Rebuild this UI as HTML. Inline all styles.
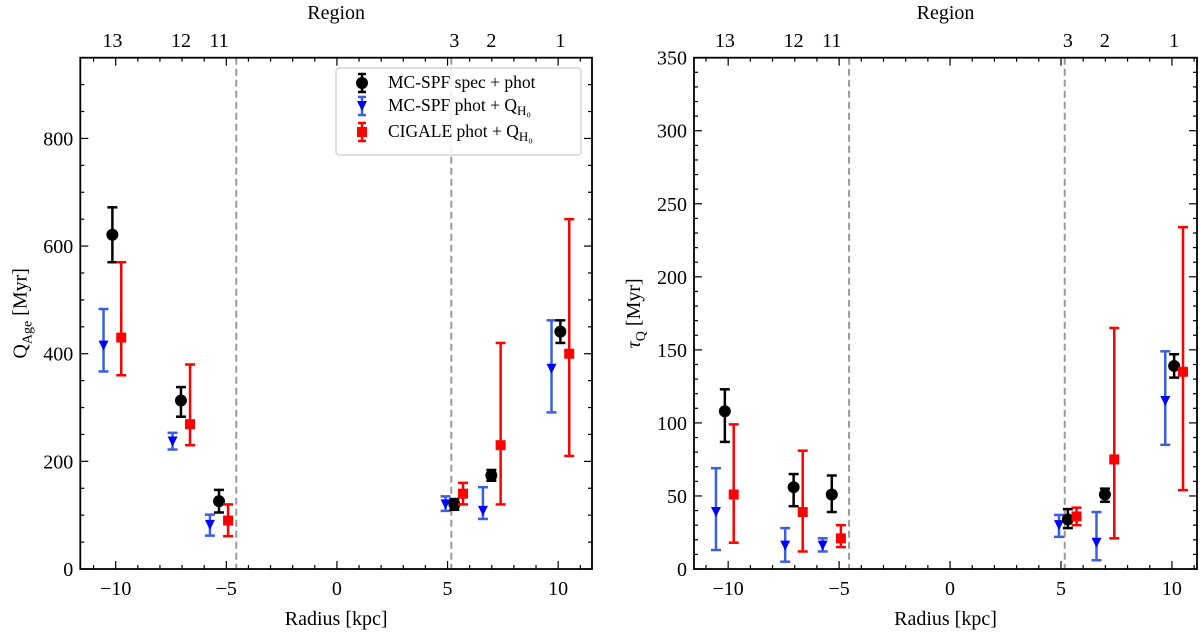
<!DOCTYPE html>
<html><head><meta charset="utf-8"><style>
body{margin:0;background:#fff}
svg{display:block;font-family:"Liberation Serif",serif}
</style></head><body>
<svg id="fig" width="1200" height="633" viewBox="0 0 1200 633" xmlns="http://www.w3.org/2000/svg"></svg>
<script>
const radiusBlack=[-10.15,-7.05,-5.33,5.31,6.98,10.1];
const radiusBlue=[-10.55,-7.43,-5.74,4.91,6.6,9.7];
const radiusRed=[-9.75,-6.64,-4.92,5.7,7.4,10.5];
const regionLabels=["13","12","11","3","2","1"];
const dashedRadii=[-4.55,5.17];
// Left panel: Q_Age
const ageBlack=[621,313,126,120,174,441];
const ageBlackLo=[570,283,105,110,164,420];
const ageBlackHi=[672,338,147,130,184,462];
const ageBlue=[415,237,82,120,108,372];
const ageBlueLo=[367,222,62,108,93,291];
const ageBlueHi=[483,253,101,135,152,462];
const ageRed=[430,269,90,140,230,400];
const ageRedLo=[360,230,61,120,120,210];
const ageRedHi=[570,380,120,160,420,650];
// Right panel: tau_Q
const tauBlack=[108,56,51,34,51,139];
const tauBlackLo=[87,43,39,28,46,131];
const tauBlackHi=[123,65,64,41,55,147];
const tauBlue=[39,16,16,30,18,115];
const tauBlueLo=[13,5,12,22,6,85];
const tauBlueHi=[69,28,21,37,39,149];
const tauRed=[51,39,21,36,75,135];
const tauRedLo=[18,12,15,30,21,54];
const tauRedHi=[99,81,30,42,165,234];
const xTicks=[-10,-5,0,5,10];
const ageTicks=[0,200,400,600,800];
const tauTicks=[0,50,100,150,200,250,300,350];

const NS="http://www.w3.org/2000/svg";
const svg=document.getElementById('fig');
function mk(tag,attrs,parent,name){const e=document.createElementNS(NS,tag);for(const k in attrs)e.setAttribute(k,attrs[k]);


(parent||svg).appendChild(e);return e;}

function panel(p){
  const g=mk('g',{},svg,p.name);
  const X=v=>p.x0+(v-p.xmin)/(p.xmax-p.xmin)*(p.x1-p.x0);
  const Y=v=>p.y1-(v-p.ymin)/(p.ymax-p.ymin)*(p.y1-p.y0);
  dashedRadii.forEach(r=>mk('line',{x1:X(r),x2:X(r),y1:p.y0,y2:p.y1,stroke:'#999','stroke-width':2,'stroke-dasharray':'7,4'},g,'region-boundary-line'));
  for(let v=Math.ceil(p.xmin);v<=p.xmax;v++){const maj=v%5===0,L=maj?8:4;
    mk('line',{x1:X(v),x2:X(v),y1:p.y1,y2:p.y1-L,stroke:'#000','stroke-width':1.2},g,'x-tick');
    mk('line',{x1:X(v),x2:X(v),y1:p.y0,y2:p.y0+L,stroke:'#000','stroke-width':1.2},g,'x-tick-top');}
  xTicks.forEach(v=>{const t=mk('text',{x:X(v),y:p.y1+26,'text-anchor':'middle','font-size':20},g,'x-tick-label');t.textContent=v<0?'\u2212'+(-v):v;});
  for(let v=p.ymin;v<=p.ymax+1e-9;v+=p.minor){const maj=Math.abs(v/p.major-Math.round(v/p.major))<1e-6,L=maj?8:4;
    mk('line',{x1:p.x0,x2:p.x0+L,y1:Y(v),y2:Y(v),stroke:'#000','stroke-width':1.2},g,'y-tick');
    mk('line',{x1:p.x1,x2:p.x1-L,y1:Y(v),y2:Y(v),stroke:'#000','stroke-width':1.2},g,'y-tick-right');}
  p.yticks.forEach(v=>{const t=mk('text',{x:p.x0-7,y:Y(v)+7,'text-anchor':'end','font-size':20},g,'y-tick-label');t.textContent=v;});
  regionLabels.forEach((s,i)=>{const t=mk('text',{x:X(radiusBlack[i]),y:47,'text-anchor':'middle','font-size':20},g,'region-label');t.textContent=s;});
  const rt=mk('text',{x:(p.x0+p.x1)/2,y:19,'text-anchor':'middle','font-size':20},g,'top-axis-title');rt.textContent='Region';
  const xt=mk('text',{x:(p.x0+p.x1)/2,y:625,'text-anchor':'middle','font-size':20},g,'x-axis-title');xt.textContent='Radius [kpc]';
  const yt=mk('text',{x:0,y:0,'text-anchor':'middle','font-size':20,transform:`translate(${p.x0-54},${(p.y0+p.y1)/2}) rotate(-90)`},g,'y-axis-title');yt.innerHTML=p.ylabel;
  function series(xs,ys,lo,hi,color,shape,nm){
    xs.forEach((xv,i)=>{const cx=X(xv),cy=Y(ys[i]);
      mk('line',{x1:cx,x2:cx,y1:Y(lo[i]),y2:Y(hi[i]),stroke:color,'stroke-width':2.5},g,nm+'-errorbar');
      [lo[i],hi[i]].forEach(v=>mk('line',{x1:cx-5,x2:cx+5,y1:Y(v),y2:Y(v),stroke:color,'stroke-width':2.5},g,nm+'-errorcap'));
      if(shape==='c')mk('circle',{cx:cx,cy:cy,r:6,fill:'#000'},g,nm+'-point');
      else if(shape==='s')mk('rect',{x:cx-5,y:cy-5,width:10,height:10,fill:'#f00'},g,nm+'-point');
      else mk('polygon',{points:`${cx-5},${cy-5} ${cx+5},${cy-5} ${cx},${cy+5}`,fill:'#00f'},g,nm+'-point');
    });}
  series(radiusBlue,p.blue,p.blueLo,p.blueHi,'#3a5fe0','t','mcspf-phot');
  series(radiusBlack,p.black,p.blackLo,p.blackHi,'#000','c','mcspf-spec');
  series(radiusRed,p.red,p.redLo,p.redHi,'#f00','s','cigale');
  mk('rect',{x:p.x0,y:p.y0,width:p.x1-p.x0,height:p.y1-p.y0,fill:'none',stroke:'#000','stroke-width':1.8},g,'plot-frame');
  return g;
}
panel({name:'age-panel',x0:80.3,x1:592,y0:57.7,y1:569,xmin:-11.6,xmax:11.53,ymin:0,ymax:950,major:200,minor:50,yticks:ageTicks,
  ylabel:'Q<tspan font-size="14" dy="5">Age</tspan><tspan dy="-5"> [Myr]</tspan>',
  black:ageBlack,blackLo:ageBlackLo,blackHi:ageBlackHi,blue:ageBlue,blueLo:ageBlueLo,blueHi:ageBlueHi,red:ageRed,redLo:ageRedLo,redHi:ageRedHi});
panel({name:'tau-panel',x0:694,x1:1197,y0:57.7,y1:569,xmin:-11.54,xmax:11.13,ymin:0,ymax:350,major:50,minor:10,yticks:tauTicks,
  ylabel:'<tspan font-style="italic">τ</tspan><tspan font-size="14" dy="5">Q</tspan><tspan dy="-5"> [Myr]</tspan>',
  black:tauBlack,blackLo:tauBlackLo,blackHi:tauBlackHi,blue:tauBlue,blueLo:tauBlueLo,blueHi:tauBlueHi,red:tauRed,redLo:tauRedLo,redHi:tauRedHi});
const lg=mk('g',{},svg,'legend');
mk('rect',{x:336,y:68,width:245,height:87,rx:3,fill:'#fff','fill-opacity':0.85,stroke:'#ccc','stroke-width':1.2},lg,'legend-box');
const entries=[['#000','c','MC-SPF spec + phot',83],['#3a5fe0','t','MC-SPF phot + Q<tspan font-size="13" dy="4">H₀</tspan>',106],['#f00','s','CIGALE phot + Q<tspan font-size="13" dy="4">H₀</tspan>',132]];
entries.forEach(([c,s,label,y])=>{const cx=362;
  mk('line',{x1:cx,x2:cx,y1:y-9,y2:y+9,stroke:c,'stroke-width':2.5},lg,'legend-errorbar');
  mk('line',{x1:cx-4,x2:cx+4,y1:y-9,y2:y-9,stroke:c,'stroke-width':2.5},lg,'legend-cap');
  mk('line',{x1:cx-4,x2:cx+4,y1:y+9,y2:y+9,stroke:c,'stroke-width':2.5},lg,'legend-cap');
  if(s==='c')mk('circle',{cx:cx,cy:y,r:6,fill:'#000'},lg,'legend-marker');
  else if(s==='s')mk('rect',{x:cx-5,y:y-5,width:10,height:10,fill:'#f00'},lg,'legend-marker');
  else mk('polygon',{points:`${cx-5},${y-5} ${cx+5},${y-5} ${cx},${y+5}`,fill:'#00f'},lg,'legend-marker');
  const t=mk('text',{x:388,y:y+5,'font-size':17.5},lg,'legend-entry');t.innerHTML=label;});
</script>
</body></html>
